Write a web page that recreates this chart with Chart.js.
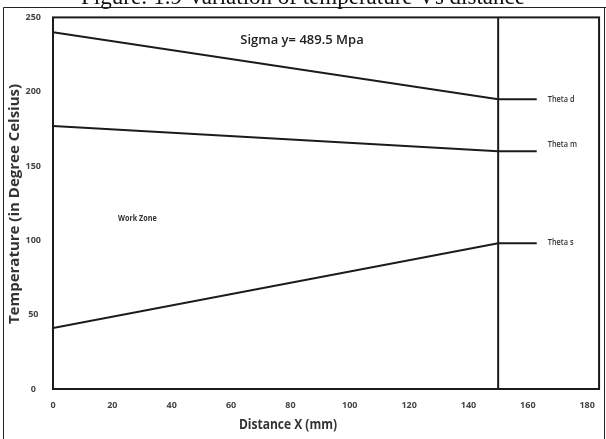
<!DOCTYPE html>
<html>
<head>
<meta charset="utf-8">
<title>Variation of temperature Vs distance</title>
<script src="https://cdn.jsdelivr.net/npm/chart.js@4.4.1/dist/chart.umd.min.js"></script>
<style>
    html, body { margin: 0; padding: 0; background: #fff; }
    canvas { display: block; }
</style>
</head>
<body>
<canvas id="tempChart" width="606" height="439"></canvas>
<script>
// Distance points (mm): start, end of work zone, end of the label stub
const distanceX = [0, 150, 163];

// Temperatures (deg C) along each line
const thetaD = [240, 195, 195];
const thetaM = [177, 160, 160];
const thetaS = [41, 98, 98];

// Work zone boundary at x = 150 mm
const boundaryX = [150, 150];
const boundaryY = [0, 250];

const xTicks = [0, 20, 40, 60, 80, 100, 120, 140, 160, 180];
const yTicks = [0, 50, 100, 150, 200, 250];

const seriesNames = ['Theta d', 'Theta m', 'Theta s'];

const sans = '"Open Sans", sans-serif';

function toPoints(xs, ys) {
    return xs.map((x, i) => ({ x: x, y: ys[i] }));
}

function lineSet(label, xs, ys) {
    return {
        label: label,
        data: toPoints(xs, ys),
        showLine: true,
        borderColor: '#1b1b1b',
        borderWidth: 2,
        pointRadius: 0,
        tension: 0,
        fill: false
    };
}

// squeezed text, the labels are set in a condensed face
function narrowText(ctx, text, x, y, squeeze) {
    ctx.save();
    ctx.translate(x, y);
    ctx.scale(squeeze, 1);
    ctx.fillText(text, 0, 0);
    ctx.restore();
}

// frame, plot box and free text
const decorations = {
    id: 'decorations',
    beforeDraw(chart) {
        const ctx = chart.ctx;
        ctx.save();
        ctx.fillStyle = '#fff';
        ctx.fillRect(0, 0, chart.width, chart.height);

        // outer frame
        ctx.strokeStyle = '#222';
        ctx.lineWidth = 1;
        ctx.beginPath();
        ctx.moveTo(3.5, 440);
        ctx.lineTo(3.5, 7.5);
        ctx.lineTo(606, 7.5);
        ctx.moveTo(604.5, 7.5);
        ctx.lineTo(604.5, 440);
        ctx.stroke();

        // figure caption, clipped by the top edge
        ctx.fillStyle = '#111';
        ctx.font = '23px "Liberation Serif", "DejaVu Serif", serif';
        ctx.textAlign = 'center';
        ctx.textBaseline = 'alphabetic';
        ctx.fillText('Figure: 1.9 Variation of temperature Vs distance', 303, 4);
        ctx.restore();
    },
    afterDraw(chart) {
        const ctx = chart.ctx;
        const area = chart.chartArea;
        const xs = chart.scales.x;
        const ys = chart.scales.y;
        ctx.save();

        ctx.strokeStyle = '#1b1b1b';
        ctx.lineWidth = 2;
        ctx.strokeRect(area.left, area.top, area.right - area.left, area.bottom - area.top);

        ctx.fillStyle = '#222';
        ctx.textBaseline = 'middle';

        ctx.font = '600 13px ' + sans;
        ctx.textAlign = 'center';
        ctx.fillText('Sigma y= 489.5 Mpa', 302, 40);

        ctx.font = 'bold 15px ' + sans;
        ctx.fillStyle = '#333';
        narrowText(ctx, 'Distance X (mm)', 288, 425, 0.8);

        ctx.save();
        ctx.translate(15, 204);
        ctx.rotate(-Math.PI / 2);
        ctx.font = 'bold 15px ' + sans;
        ctx.fillText('Temperature (in Degree Celsius)', 0, 0);
        ctx.restore();

        ctx.font = 'bold 9px ' + sans;
        ctx.fillStyle = '#333';
        ctx.textAlign = 'left';
        narrowText(ctx, 'Work Zone', 118, 218, 0.8);

        // series labels beside the stubs
        const ends = [thetaD, thetaM, thetaS];
        const offsets = [0, -7, -1];
        ctx.font = '600 9px ' + sans;
        seriesNames.forEach((name, i) => {
            const last = ends[i][ends[i].length - 1];
            narrowText(ctx, name, xs.getPixelForValue(distanceX[2]) + 11, ys.getPixelForValue(last) + offsets[i], 0.82);
        });
        ctx.restore();
    }
};

const ctx = document.getElementById('tempChart').getContext('2d');
new Chart(ctx, {
    type: 'scatter',
    data: {
        datasets: [
            lineSet(seriesNames[0], distanceX, thetaD),
            lineSet(seriesNames[1], distanceX, thetaM),
            lineSet(seriesNames[2], distanceX, thetaS),
            lineSet('Boundary', boundaryX, boundaryY)
        ]
    },
    options: {
        responsive: false,
        animation: false,
        layout: { padding: { top: 14, right: 4, left: 0, bottom: 0 } },
        plugins: {
            legend: { display: false },
            tooltip: { enabled: false }
        },
        scales: {
            x: {
                type: 'linear',
                min: 0,
                max: 184,
                afterBuildTicks: scale => { scale.ticks = xTicks.map(v => ({ value: v })); },
                afterFit: scale => { scale.height = 50; },
                grid: { display: false, drawTicks: false },
                border: { display: false },
                ticks: {
                    padding: 11,
                    maxRotation: 0,
                    autoSkip: false,
                    color: '#444',
                    font: { family: sans, size: 9, weight: 'bold' }
                }
            },
            y: {
                type: 'linear',
                min: 0,
                max: 250,
                afterBuildTicks: scale => { scale.ticks = yTicks.map(v => ({ value: v })); },
                afterFit: scale => { scale.width = 53; },
                grid: { display: false, drawTicks: false },
                border: { display: false },
                ticks: {
                    padding: 12,
                    crossAlign: 'center',
                    color: '#444',
                    font: { family: sans, size: 9, weight: 'bold' }
                }
            }
        }
    },
    plugins: [decorations]
});
</script>
</body>
</html>
